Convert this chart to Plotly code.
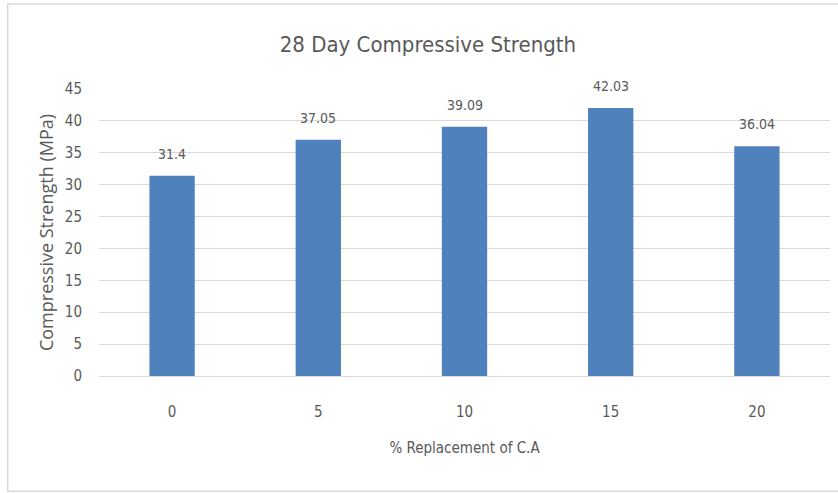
import plotly.graph_objects as go

# Compressive strength at 28 days vs. coarse aggregate replacement
categories = ["0", "5", "10", "15", "20"]
strength = [31.4, 37.05, 39.09, 42.03, 36.04]
value_labels = ["31.4", "37.05", "39.09", "42.03", "36.04"]
y_ticks = [0, 5, 10, 15, 20, 25, 30, 35, 40, 45]

BAR_COLOR = "#4F81BD"
TEXT_COLOR = "#595959"
GRID_COLOR = "#D9D9D9"
NARROW = "DejaVu Sans Condensed, Liberation Sans Narrow, sans-serif"

fig = go.Figure()
fig.add_trace(go.Bar(
    x=categories,
    y=strength,
    marker=dict(color=BAR_COLOR, line=dict(width=0)),
    hoverinfo="x+y",
))

# value labels above each bar (category index used as x position)
for idx, (val, lab) in enumerate(zip(strength, value_labels)):
    fig.add_annotation(
        x=idx, y=val, text=lab, showarrow=False,
        yanchor="bottom", yshift=12,
        font=dict(family=NARROW, size=14, color=TEXT_COLOR),
    )

# outer chart frame
fig.add_shape(
    type="rect", xref="paper", yref="paper",
    x0=-0.125, x1=1.02, y0=-0.402, y1=1.296,
    line=dict(color="#D9D9D9", width=1.5), layer="below",
)

fig.update_layout(
    width=838, height=493,
    margin=dict(l=99, r=8, t=89, b=117),
    paper_bgcolor="white", plot_bgcolor="white",
    bargap=0.69,
    showlegend=False,
    title=dict(
        text="28 Day Compressive Strength",
        x=0.45, xref="paper", xanchor="center",
        y=1.0 - 44 / 493, yanchor="middle",
        font=dict(family=NARROW, size=22, color=TEXT_COLOR),
    ),
    xaxis=dict(
        type="category",
        showgrid=False,
        showline=True, linecolor=GRID_COLOR, linewidth=1,
        ticks="", ticklabelstandoff=22,
        tickfont=dict(family=NARROW, size=15, color=TEXT_COLOR),
        title=dict(
            text="% Replacement of C.A", standoff=22,
            font=dict(family=NARROW, size=15, color=TEXT_COLOR),
        ),
    ),
    yaxis=dict(
        range=[0, 45],
        tickvals=y_ticks,
        showgrid=True, gridcolor=GRID_COLOR, gridwidth=1,
        zeroline=False, showline=False,
        ticks="", ticklabelstandoff=16,
        tickfont=dict(family=NARROW, size=15, color=TEXT_COLOR),
        title=dict(
            text="Compressive Strength (MPa)", standoff=6,
            font=dict(family="Open Sans, sans-serif", size=18, color=TEXT_COLOR),
        ),
    ),
)

fig.write_html("out.html")
